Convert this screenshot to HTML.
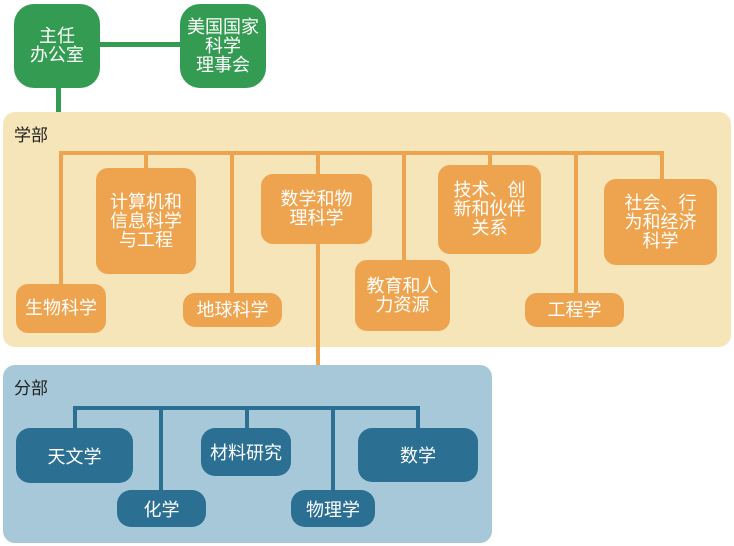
<!DOCTYPE html>
<html><head><meta charset="utf-8"><style>
body{margin:0;width:734px;height:546px;background:#fff;position:relative;overflow:hidden;font-family:"Liberation Sans","Noto Sans CJK SC",sans-serif;}
div{position:absolute;box-sizing:border-box}
.g{background:#349c52;border-radius:20px;color:#fff;font-size:18px;line-height:19px;display:flex;align-items:center;justify-content:center;text-align:center}
.o{background:#eea44e;border-radius:12px;color:#fff;font-size:18px;line-height:19px;display:flex;align-items:center;justify-content:center;text-align:center}
.b{background:#2b6f93;border-radius:14px;color:#fff;font-size:18px;display:flex;align-items:center;justify-content:center;text-align:center}
.lo{background:#eea44e}.lb{background:#2b6f93}.lg{background:#349c52}
</style></head><body>
<div class="lg" style="left:100px;top:42px;width:80px;height:5px"></div>
<div class="lg" style="left:56px;top:86px;width:5px;height:28px"></div>
<div class="g" style="left:14px;top:4px;width:86px;height:84px">主任<br>办公室</div>
<div class="g" style="left:180px;top:4px;width:86px;height:84px">美国国家<br>科学<br>理事会</div>

<div style="left:3px;top:112px;width:728px;height:235px;background:#f5e5b8;border-radius:12px"></div>
<div style="left:14px;top:121px;font-size:17px;color:#222">学部</div>
<div class="lo" style="left:59px;top:151px;width:605px;height:4px"></div>
<div class="lo" style="left:59px;top:151px;width:4px;height:135px"></div>
<div class="lo" style="left:144px;top:151px;width:4px;height:20px"></div>
<div class="lo" style="left:230px;top:151px;width:4px;height:144px"></div>
<div class="lo" style="left:316px;top:151px;width:4px;height:216px"></div>
<div class="lo" style="left:402px;top:151px;width:4px;height:112px"></div>
<div class="lo" style="left:488px;top:151px;width:4px;height:16px"></div>
<div class="lo" style="left:574px;top:151px;width:4px;height:144px"></div>
<div class="lo" style="left:660px;top:151px;width:4px;height:30px"></div>
<div class="o" style="left:16px;top:284px;width:90px;height:49px">生物科学</div>
<div class="o" style="left:96px;top:168px;width:100px;height:106px">计算机和<br>信息科学<br>与工程</div>
<div class="o" style="left:183px;top:293px;width:99px;height:34px">地球科学</div>
<div class="o" style="left:261px;top:174px;width:111px;height:70px">数学和物<br>理科学</div>
<div class="o" style="left:355px;top:260px;width:95px;height:71px">教育和人<br>力资源</div>
<div class="o" style="left:438px;top:165px;width:103px;height:89px">技术、创<br>新和伙伴<br>关系</div>
<div class="o" style="left:525px;top:293px;width:99px;height:34px">工程学</div>
<div class="o" style="left:604px;top:179px;width:113px;height:86px">社会、行<br>为和经济<br>科学</div>

<div style="left:3px;top:365px;width:489px;height:178px;background:#a7c8d8;border-radius:12px"></div>
<div style="left:14px;top:374px;font-size:17px;color:#222">分部</div>
<div class="lb" style="left:73px;top:406px;width:347px;height:4px"></div>
<div class="lb" style="left:73px;top:406px;width:4px;height:24px"></div>
<div class="lb" style="left:159px;top:406px;width:4px;height:86px"></div>
<div class="lb" style="left:245px;top:406px;width:4px;height:24px"></div>
<div class="lb" style="left:331px;top:406px;width:4px;height:86px"></div>
<div class="lb" style="left:416px;top:406px;width:4px;height:24px"></div>
<div class="b" style="left:16px;top:428px;width:117px;height:55px">天文学</div>
<div class="b" style="left:117px;top:490px;width:89px;height:37px">化学</div>
<div class="b" style="left:201px;top:428px;width:90px;height:48px">材料研究</div>
<div class="b" style="left:291px;top:490px;width:84px;height:37px">物理学</div>
<div class="b" style="left:358px;top:428px;width:120px;height:54px">数学</div>
</body></html>
